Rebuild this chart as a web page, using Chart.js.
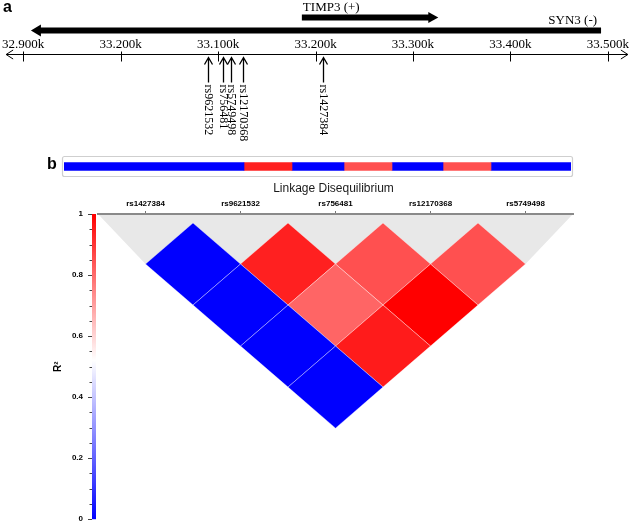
<!DOCTYPE html>
<html lang="en">
<head>
<meta charset="UTF-8" />
<title>TIMP3 / SYN3 region and linkage disequilibrium</title>
<script src="https://cdn.jsdelivr.net/npm/chart.js"></script>
<style>
  body { margin: 0; background: #fff; }
  #wrap { position: relative; width: 631px; height: 523px; overflow: hidden; }
  #wrap canvas { position: absolute; left: 0; }
</style>
</head>
<body>
<div id="wrap">
  <canvas id="regionChart" width="631" height="145" style="top:0"></canvas>
  <canvas id="hapChart" width="631" height="35" style="top:150px"></canvas>
  <canvas id="ldChart" width="631" height="344" style="top:180px"></canvas>
</div>

<script>
  // --- panel a : genomic region (kb) ---
  const posTicks = [32900, 33000, 33100, 33200, 33300, 33400, 33500];
  const posLabels = ["32.900k", "33.200k", "33.100k", "33.200k", "33.300k", "33.400k", "33.500k"];
  const geneNames = ["TIMP3 (+)", "SYN3 (-)"];
  const geneStart = [33186, 32908];
  const geneEnd = [33326, 33493];
  const geneStrand = [1, -1];
  const snpNames = ["rs9621532", "rs756481", "rs5749498", "rs12170368", "rs1427384"];
  const snpPos = [33090, 33105, 33113, 33126, 33208];

  // --- panel b : haplotype strip ---
  const hapLen = [180, 48, 52, 48, 51, 48, 80];
  const hapR2 = [0.0, 0.94, 0.0, 0.85, 0.0, 0.85, 0.0];

  // --- panel b : LD (r²) between pairs of SNPs ---
  const ldSnps = ["rs1427384", "rs9621532", "rs756481", "rs12170368", "rs5749498"];
  const ldPairA = [1, 2, 3, 4, 1, 2, 3, 1, 2, 1];
  const ldPairB = [2, 3, 4, 5, 3, 4, 5, 4, 5, 5];
  const ldR2 = [0.0, 0.94, 0.85, 0.85, 0.0, 0.81, 1.0, 0.0, 0.95, 0.0];
  const r2Ticks = [0, 0.2, 0.4, 0.6, 0.8, 1];

  const SERIF = '"Liberation Serif", "Times New Roman", serif';
  const SANS = '"Liberation Sans", Arial, sans-serif';

  // blue -> white -> red colour scale
  function r2Color(v) {
    const mid = 0.52;
    let r, g, b;
    if (v <= mid) {
      const t = v / mid;
      r = g = Math.round(255 * t);
      b = 255;
    } else {
      const t = (v - mid) / (1 - mid);
      r = 255;
      g = b = Math.round(255 * (1 - t));
    }
    return `rgb(${r},${g},${b})`;
  }

  const baseOpts = {
    responsive: false,
    animation: false,
    events: [],
  };

  // ---------------- panel a ----------------
  const regionDraw = {
    id: "regionDraw",
    afterDraw(chart) {
      const { ctx, chartArea } = chart;
      const x = chart.scales.x;
      const ay = chartArea.top + 0.5;
      ctx.save();
      ctx.strokeStyle = "#000";
      ctx.fillStyle = "#000";
      ctx.lineWidth = 1;

      // axis line with open arrows on both ends
      const l = x.left - 17, r = x.right + 20;
      ctx.beginPath();
      ctx.moveTo(l, ay); ctx.lineTo(r, ay);
      ctx.moveTo(l + 7, ay - 4.5); ctx.lineTo(l, ay); ctx.lineTo(l + 7, ay + 4.5);
      ctx.moveTo(r - 7, ay - 4.5); ctx.lineTo(r, ay); ctx.lineTo(r - 7, ay + 4.5);
      ctx.stroke();

      // tick marks
      ctx.beginPath();
      posTicks.forEach((v) => {
        const px = Math.round(x.getPixelForValue(v)) + 0.5;
        ctx.moveTo(px, ay - 3);
        ctx.lineTo(px, ay + 7);
      });
      ctx.stroke();

      // genes
      ctx.font = "13px " + SERIF;
      ctx.textBaseline = "alphabetic";
      geneNames.forEach((name, i) => {
        const a = x.getPixelForValue(geneStart[i]);
        const b = x.getPixelForValue(geneEnd[i]);
        const yc = ay - 37 + i * 13;
        const head = 10;
        ctx.beginPath();
        if (geneStrand[i] > 0) {
          ctx.rect(a, yc - 3, b - head - a, 6);
          ctx.moveTo(b - head, yc - 5.5); ctx.lineTo(b, yc); ctx.lineTo(b - head, yc + 5.5);
          ctx.fill();
          ctx.textAlign = "left";
          ctx.fillText(name, a + 1, yc - 7);
        } else {
          ctx.rect(a + head, yc - 3, b - a - head, 6);
          ctx.moveTo(a + head, yc - 6); ctx.lineTo(a, yc); ctx.lineTo(a + head, yc + 6);
          ctx.fill();
          ctx.textAlign = "right";
          ctx.fillText(name, b - 4, yc - 7);
        }
      });

      // SNP arrows and rotated labels
      ctx.font = "12px " + SERIF;
      ctx.lineWidth = 1.3;
      snpNames.forEach((name, i) => {
        const px = Math.round(x.getPixelForValue(snpPos[i])) + 0.5;
        ctx.beginPath();
        ctx.moveTo(px, ay + 3); ctx.lineTo(px, ay + 28);
        ctx.moveTo(px - 4, ay + 10); ctx.lineTo(px, ay + 3); ctx.lineTo(px + 4, ay + 10);
        ctx.stroke();
        ctx.save();
        ctx.translate(px, ay + 30);
        ctx.rotate(Math.PI / 2);
        ctx.textAlign = "left";
        ctx.textBaseline = "middle";
        ctx.fillText(name, 0, 0);
        ctx.restore();
      });

      // panel letter
      ctx.font = "bold 16px " + SANS;
      ctx.textAlign = "left";
      ctx.textBaseline = "alphabetic";
      ctx.fillText("a", 3, 12);
      ctx.restore();
    },
  };

  new Chart(document.getElementById("regionChart"), {
    type: "scatter",
    data: { datasets: [] },
    options: {
      ...baseOpts,
      layout: { padding: { left: 22, right: 23, top: 0, bottom: 0 } },
      plugins: { legend: { display: false }, tooltip: { enabled: false } },
      scales: {
        x: {
          type: "linear",
          position: "top",
          min: posTicks[0],
          max: posTicks[posTicks.length - 1],
          afterFit: (s) => { s.height = 54; },
          afterBuildTicks: (s) => { s.ticks = posTicks.map((v) => ({ value: v })); },
          grid: { display: false, drawTicks: false },
          border: { display: false },
          ticks: {
            padding: 2,
            maxRotation: 0,
            autoSkip: false,
            color: "#000",
            font: { family: SERIF, size: 13 },
            callback: (v, i) => posLabels[i],
          },
        },
        y: { display: false, min: 0, max: 1 },
      },
    },
    plugins: [regionDraw],
  });

  // ---------------- haplotype strip ----------------
  const hapBox = {
    id: "hapBox",
    afterDraw(chart) {
      const { ctx, chartArea } = chart;
      ctx.save();
      ctx.strokeStyle = "#cfcfcf";
      ctx.lineWidth = 1.2;
      ctx.beginPath();
      ctx.roundRect(chartArea.left - 1.5, chartArea.top + 0.5,
        chartArea.right - chartArea.left + 3, chartArea.bottom - chartArea.top - 1, 2);
      ctx.stroke();
      ctx.fillStyle = "#000";
      ctx.font = "bold 16px " + SANS;
      ctx.textAlign = "left";
      ctx.textBaseline = "alphabetic";
      ctx.fillText("b", 47, 19);
      ctx.restore();
    },
  };

  new Chart(document.getElementById("hapChart"), {
    type: "bar",
    data: {
      labels: ["haplotype"],
      datasets: hapLen.map((len, i) => ({
        data: [len],
        backgroundColor: r2Color(hapR2[i]),
        borderWidth: 0,
        barThickness: 8,
        stack: "hap",
      })),
    },
    options: {
      ...baseOpts,
      indexAxis: "y",
      layout: { padding: { left: 64, right: 60, top: 6, bottom: 8 } },
      plugins: { legend: { display: false }, tooltip: { enabled: false } },
      scales: {
        x: { stacked: true, display: false, min: 0, max: hapLen.reduce((a, b) => a + b, 0) },
        y: { stacked: true, display: false },
      },
    },
    plugins: [hapBox],
  });

  // ---------------- LD triangle ----------------
  const ldDraw = {
    id: "ldDraw",
    beforeDraw(chart) {
      const { ctx, chartArea } = chart;
      const x = chart.scales.x, y = chart.scales.y, yd = chart.scales.yd;
      const P = (a, b) => [x.getPixelForValue(a), yd.getPixelForValue(b)];
      const n = ldSnps.length;
      ctx.save();

      // grey background triangle above the diamonds
      ctx.fillStyle = "#e8e8e8";
      ctx.beginPath();
      [[0.5, yd.min], [n + 0.5, yd.min], [n, 0.5], [1, 0.5]].forEach(([a, b], k) => {
        const [px, py] = P(a, b);
        k ? ctx.lineTo(px, py) : ctx.moveTo(px, py);
      });
      ctx.closePath();
      ctx.fill();

      // r² diamonds
      ldR2.forEach((v, k) => {
        const i = ldPairA[k], j = ldPairB[k];
        const cx = (i + j) / 2, cy = (j - i) / 2;
        const pts = [P(cx, cy - 0.5), P(cx + 0.5, cy), P(cx, cy + 0.5), P(cx - 0.5, cy)];
        ctx.beginPath();
        pts.forEach(([px, py], m) => (m ? ctx.lineTo(px, py) : ctx.moveTo(px, py)));
        ctx.closePath();
        ctx.fillStyle = r2Color(v);
        ctx.fill();
        ctx.strokeStyle = "rgba(255,255,255,0.45)";
        ctx.lineWidth = 0.8;
        ctx.stroke();
      });

      // colour bar along the r² axis
      const top = y.getPixelForValue(1), bot = y.getPixelForValue(0);
      const grad = ctx.createLinearGradient(0, top, 0, bot);
      [1, 0.76, 0.52, 0.26, 0].forEach((v) => grad.addColorStop(1 - v, r2Color(v)));
      ctx.fillStyle = grad;
      ctx.fillRect(chartArea.left - 6, top, 4, bot - top);

      // major / minor tick marks
      ctx.strokeStyle = "#444";
      ctx.lineWidth = 1;
      ctx.beginPath();
      for (let s = 0; s <= 20; s++) {
        const py = Math.round(y.getPixelForValue(s / 20)) + 0.5;
        const len = s % 4 === 0 ? 4 : 2.5;
        ctx.moveTo(chartArea.left - 6 - len, py);
        ctx.lineTo(chartArea.left - 6, py);
      }
      ctx.stroke();

      // chart title
      ctx.fillStyle = "#1a1a1a";
      ctx.font = "12px " + SANS;
      ctx.textAlign = "center";
      ctx.textBaseline = "alphabetic";
      ctx.fillText("Linkage Disequilibrium", (chartArea.left + chartArea.right) / 2 - 2, 12);
      ctx.restore();
    },
  };

  new Chart(document.getElementById("ldChart"), {
    type: "scatter",
    data: { datasets: [] },
    options: {
      ...baseOpts,
      layout: { padding: { left: 0, right: 58, top: 14, bottom: 4 } },
      plugins: { legend: { display: false }, tooltip: { enabled: false } },
      scales: {
        x: {
          type: "linear",
          position: "top",
          min: 0.5,
          max: ldSnps.length + 0.5,
          afterFit: (s) => { s.height = 20; },
          afterBuildTicks: (s) => { s.ticks = ldSnps.map((_, i) => ({ value: i + 1 })); },
          grid: { drawOnChartArea: false, drawTicks: true, tickLength: 3, color: "#777" },
          border: { display: true, color: "#8a8a8a", width: 2 },
          ticks: {
            padding: 2,
            maxRotation: 0,
            autoSkip: false,
            color: "#000",
            font: { family: SANS, size: 8, weight: "bold" },
            callback: (v, i) => ldSnps[i],
          },
        },
        y: {
          type: "linear",
          position: "left",
          min: 0,
          max: 1,
          afterFit: (s) => { s.width = 98; },
          afterBuildTicks: (s) => { s.ticks = r2Ticks.map((v) => ({ value: v })); },
          // tick marks are drawn by ldDraw; tickLength only sets the label gap
          grid: { display: false, drawTicks: true, tickLength: 15 },
          border: { display: false },
          ticks: {
            padding: 0,
            color: "#000",
            font: { family: SANS, size: 8, weight: "bold" },
            callback: (v) => String(v),
          },
          title: {
            display: true,
            text: "R²",
            color: "#000",
            font: { family: SANS, size: 10, weight: "bold" },
            padding: { top: 52, bottom: 0 },
          },
        },
        yd: {
          type: "linear",
          display: false,
          reverse: true,
          min: -9 / 82,
          max: -9 / 82 + 305 / 82,
        },
      },
    },
    plugins: [ldDraw],
  });
</script>
</body>
</html>
